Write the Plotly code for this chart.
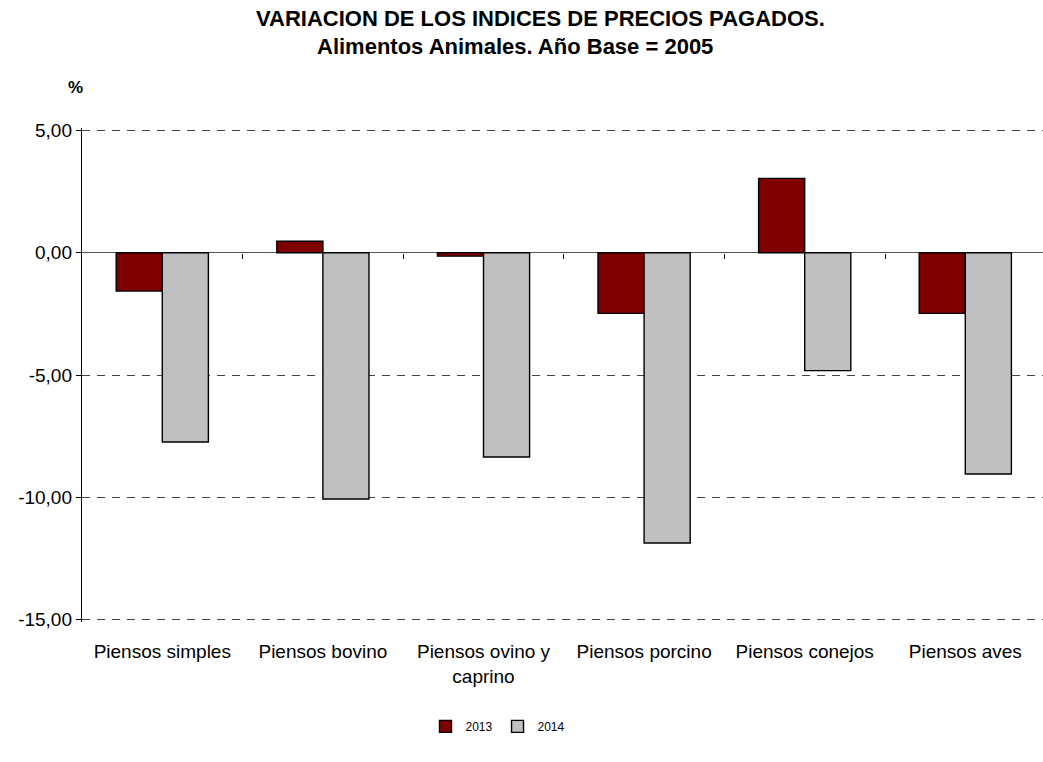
import plotly.graph_objects as go

categories = ["Piensos simples", "Piensos bovino", "Piensos ovino y caprino",
              "Piensos porcino", "Piensos conejos", "Piensos aves"]
tick_labels = ["Piensos simples", "Piensos bovino", "Piensos ovino y<br>caprino",
               "Piensos porcino", "Piensos conejos", "Piensos aves"]
series_names = ["2013", "2014"]
values_2013 = [-1.57, 0.47, -0.14, -2.48, 3.04, -2.48]
values_2014 = [-7.74, -10.07, -8.35, -11.87, -4.82, -9.05]
y_ticks = [5, 0, -5, -10, -15]
y_min, y_max = -15, 5

W, H = 1043, 762
pad = 0.1
px_per_unit = 24.43
top_px = 130.7 - pad * px_per_unit
bottom_px = 619.3 + pad * px_per_unit
ml, mr = 82, 0
mt, mb = top_px, H - bottom_px
n = len(categories)
cat_w = 160.6
x_hi = -0.5 + (W - ml - mr) / cat_w
plot_w = W - ml - mr
plot_h = H - mt - mb

font = "Liberation Sans, Arial, sans-serif"
y_ticktext = [("%.2f" % v).replace(".", ",") for v in y_ticks]

fig = go.Figure()
fig.add_trace(go.Bar(x=categories, y=values_2013, name=series_names[0],
                     marker=dict(color="#800000", line=dict(color="#000000", width=1.4))))
fig.add_trace(go.Bar(x=categories, y=values_2014, name=series_names[1],
                     marker=dict(color="#C0C0C0", line=dict(color="#000000", width=1.4))))
# empty helper trace so the zero-line tick axis is drawn
fig.add_trace(go.Scatter(x=[], y=[], xaxis="x2", yaxis="y", showlegend=False, hoverinfo="skip"))

zero_pos = (0 - (y_min - pad)) / ((y_max + pad) - (y_min - pad))

fig.update_layout(
    width=W, height=H,
    margin=dict(l=ml, r=mr, t=mt, b=mb, autoexpand=False),
    paper_bgcolor="white", plot_bgcolor="white",
    font=dict(family=font, size=19, color="#000000"),
    barmode="group", bargap=0.426, bargroupgap=0,
    xaxis=dict(type="category", categoryorder="array", categoryarray=categories,
               tickvals=categories, ticktext=tick_labels,
               range=[-0.5, x_hi], showgrid=False, showline=False,
               ticks="", ticklabelstandoff=16, zeroline=False, automargin=False,
               tickfont=dict(size=19, family=font)),
    xaxis2=dict(overlaying="x", anchor="free", position=zero_pos,
                range=[-0.5, x_hi], showgrid=False, showline=False,
                zeroline=False, ticks="outside", ticklen=5, tickwidth=1.4,
                tickcolor="#000000", automargin=False,
                tickvals=[i + 0.5 for i in range(n)],
                showticklabels=False),
    yaxis=dict(range=[y_min - pad, y_max + pad], tickvals=y_ticks, ticktext=y_ticktext,
               showgrid=True, gridcolor="#444444", gridwidth=1, griddash="8px,7px",
               zeroline=True, zerolinecolor="#555555", zerolinewidth=1.4,
               showline=True, linecolor="#000000", linewidth=1.4, automargin=False,
               ticks="outside", ticklen=5, tickcolor="#000000", tickwidth=1.4,
               tickfont=dict(size=19, family=font)),
    showlegend=True,
    legend=dict(orientation="h", x=(498 - ml) / plot_w, xanchor="center",
                y=-(726 - bottom_px) / plot_h,
                yanchor="middle", font=dict(size=12, family=font),
                traceorder="normal"),
    annotations=[
        dict(text="<b>VARIACION DE LOS INDICES DE PRECIOS PAGADOS.</b>",
             xref="paper", yref="paper", x=(540 - ml) / plot_w,
             y=1 + (mt - 19) / plot_h, xanchor="center", yanchor="middle",
             showarrow=False, font=dict(size=22, family=font)),
        dict(text="<b>Alimentos Animales. Año Base = 2005</b>",
             xref="paper", yref="paper", x=(515 - ml) / plot_w,
             y=1 + (mt - 47) / plot_h, xanchor="center", yanchor="middle",
             showarrow=False, font=dict(size=22, family=font)),
        dict(text="<b>%</b>", xref="paper", yref="paper",
             x=(75 - ml) / plot_w, y=1 + (mt - 88) / plot_h,
             xanchor="center", yanchor="middle", showarrow=False,
             font=dict(size=17, family=font)),
    ],
)

fig.write_html("out.html", config={"displayModeBar": False},
               post_script="document.body.style.margin='0';")
